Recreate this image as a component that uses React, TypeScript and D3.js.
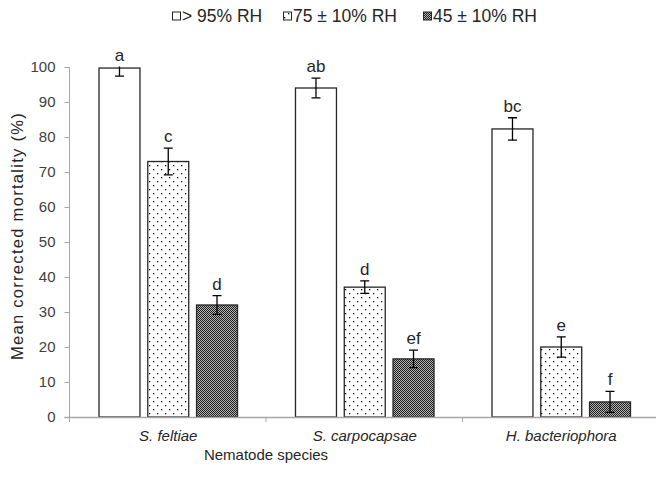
import React, { useEffect, useRef } from "react";
import * as d3 from "d3";

const species = ["S. feltiae", "S. carpocapsae", "H. bacteriophora"];
const treatments = ["> 95% RH", "75 ± 10% RH", "45 ± 10% RH"];
const mortality = [
  [99.7, 73, 32],
  [94, 37.1, 16.6],
  [82.3, 20, 4.3],
];
const errors = [
  [2.3, 3.8, 2.7],
  [2.8, 1.8, 2.5],
  [3.2, 2.9, 3.0],
];
const letters = [
  ["a", "c", "d"],
  ["ab", "d", "ef"],
  ["bc", "e", "f"],
];
const yTicks = [0, 10, 20, 30, 40, 50, 60, 70, 80, 90, 100];

const W = 656;
const H = 477;

export default function App() {
  const ref = useRef<SVGSVGElement>(null);

  useEffect(() => {
    const svg = d3.select(ref.current);
    svg.selectAll("*").remove();
    const font = "'Liberation Sans', Arial, sans-serif";
    const margin = { left: 69.5, top: 67, bottom: 60 };
    const plotRight = 659;

    const defs = svg.append("defs");
    const dots = defs
      .append("pattern")
      .attr("id", "dots")
      .attr("patternUnits", "userSpaceOnUse")
      .attr("width", 8)
      .attr("height", 8);
    dots.append("rect").attr("width", 8).attr("height", 8).attr("fill", "white");
    dots.append("rect").attr("x", 1).attr("y", 1).attr("width", 1.3).attr("height", 1.3).attr("fill", "#111");
    dots.append("rect").attr("x", 5).attr("y", 5).attr("width", 1.3).attr("height", 1.3).attr("fill", "#111");

    const check = defs
      .append("pattern")
      .attr("id", "check")
      .attr("patternUnits", "userSpaceOnUse")
      .attr("width", 2)
      .attr("height", 2);
    check.append("rect").attr("width", 2).attr("height", 2).attr("fill", "#b5b5b5");
    check.append("rect").attr("width", 1).attr("height", 1).attr("fill", "#1e1e1e");
    check.append("rect").attr("x", 1).attr("y", 1).attr("width", 1).attr("height", 1).attr("fill", "#1e1e1e");

    const fills = ["white", "url(#dots)", "url(#check)"];

    const x0 = d3
      .scaleBand<string>()
      .domain(species)
      .range([margin.left, plotRight])
      .paddingInner(0)
      .paddingOuter(0);
    const x1 = d3
      .scaleBand<string>()
      .domain(treatments)
      .range([29.5, x0.bandwidth() - 28.5])
      .paddingInner(0.16)
      .paddingOuter(0);
    const y = d3
      .scaleLinear()
      .domain([0, 100])
      .range([H - margin.bottom, margin.top]);

    defs
      .append("clipPath")
      .attr("id", "plot")
      .append("rect")
      .attr("x", margin.left)
      .attr("y", y(100) - 0.5)
      .attr("width", plotRight - margin.left)
      .attr("height", y(0) - y(100) + 1);

    // y axis
    const yAxis = svg.append("g").attr("transform", `translate(${margin.left},0)`);
    yAxis.append("line").attr("y1", y(0) + 4).attr("y2", y(100)).attr("stroke", "#a6a6a6");
    yTicks.forEach((t) => {
      yAxis
        .append("line")
        .attr("x1", -5)
        .attr("x2", 0)
        .attr("y1", Math.round(y(t)) + 0.5)
        .attr("y2", Math.round(y(t)) + 0.5)
        .attr("stroke", "#a6a6a6");
      yAxis
        .append("text")
        .attr("x", -14)
        .attr("y", y(t))
        .attr("dy", "0.35em")
        .attr("text-anchor", "end")
        .attr("font-family", font)
        .attr("font-size", 15)
        .attr("fill", "#404040")
        .text(t);
    });

    // bars
    const g = svg.append("g").attr("clip-path", "url(#plot)");
    species.forEach((s, i) => {
      treatments.forEach((t, j) => {
        const bx = x0(s)! + x1(t)!;
        const v = mortality[i][j];
        const e = errors[i][j];
        const cx = bx + x1.bandwidth() / 2;
        g.append("rect")
          .attr("x", bx)
          .attr("y", y(v))
          .attr("width", x1.bandwidth())
          .attr("height", y(0) - y(v))
          .attr("fill", fills[j])
          .attr("stroke", "#262626")
          .attr("stroke-width", 1.3);
        const eg = g.append("g").attr("stroke", "#000").attr("stroke-width", 1.3);
        eg.append("line").attr("x1", cx).attr("x2", cx).attr("y1", y(v + e)).attr("y2", y(Math.max(0, v - e)));
        [v + e, v - e].forEach((ev) => {
          if (ev > 0) {
            eg.append("line")
              .attr("x1", cx - 4.5)
              .attr("x2", cx + 4.5)
              .attr("y1", y(ev))
              .attr("y2", y(ev));
          }
        });
        svg
          .append("text")
          .attr("x", cx)
          .attr("y", Math.max(y(v + e), y(100)) - 12)
          .attr("dy", "0.35em")
          .attr("text-anchor", "middle")
          .attr("font-family", font)
          .attr("font-size", 17)
          .attr("fill", "#262626")
          .text(letters[i][j]);
      });
    });

    // x axis
    const xAxis = svg.append("g");
    xAxis
      .append("line")
      .attr("x1", margin.left - 5)
      .attr("x2", plotRight)
      .attr("y1", y(0) + 0.5)
      .attr("y2", y(0) + 0.5)
      .attr("stroke", "#a6a6a6")
      .attr("stroke-width", 1.5);
    [...species.map((s) => x0(s)!), plotRight].forEach((tx) => {
      xAxis
        .append("line")
        .attr("x1", tx)
        .attr("x2", tx)
        .attr("y1", y(0))
        .attr("y2", y(0) + 5)
        .attr("stroke", "#a6a6a6");
    });
    species.forEach((s) => {
      xAxis
        .append("text")
        .attr("x", x0(s)! + 29.5 + (x0.bandwidth() - 58) / 2)
        .attr("y", 436)
        .attr("dy", "0.35em")
        .attr("text-anchor", "middle")
        .attr("font-family", font)
        .attr("font-style", "italic")
        .attr("font-size", 15)
        .attr("fill", "#262626")
        .text(s);
    });

    svg
      .append("text")
      .attr("x", 266)
      .attr("y", 455)
      .attr("dy", "0.35em")
      .attr("text-anchor", "middle")
      .attr("font-family", font)
      .attr("font-size", 15)
      .attr("fill", "#262626")
      .text("Nematode species");

    svg
      .append("text")
      .attr("transform", `translate(17,236) rotate(-90)`)
      .attr("dy", "0.35em")
      .attr("text-anchor", "middle")
      .attr("font-family", font)
      .attr("font-size", 16.5)
      .attr("letter-spacing", 1.3)
      .attr("fill", "#262626")
      .text("Mean corrected mortality (%)");

    // legend
    const legendX = [172, 283, 423];
    treatments.forEach((t, j) => {
      const lg = svg.append("g").attr("transform", `translate(${legendX[j]},16)`);
      lg.append("rect")
        .attr("x", 0.5)
        .attr("y", -4)
        .attr("width", 8)
        .attr("height", 8)
        .attr("fill", fills[j])
        .attr("stroke", "#262626")
        .attr("stroke-width", 1);
      lg.append("text")
        .attr("x", 10)
        .attr("y", 0)
        .attr("dy", "0.35em")
        .attr("font-family", font)
        .attr("font-size", 17.5)
        .attr("fill", "#262626")
        .text(t);
    });
  }, []);

  return (
    <svg
      ref={ref}
      width={W}
      height={H}
      style={{ position: "absolute", left: 0, top: 0, background: "white" }}
    />
  );
}
